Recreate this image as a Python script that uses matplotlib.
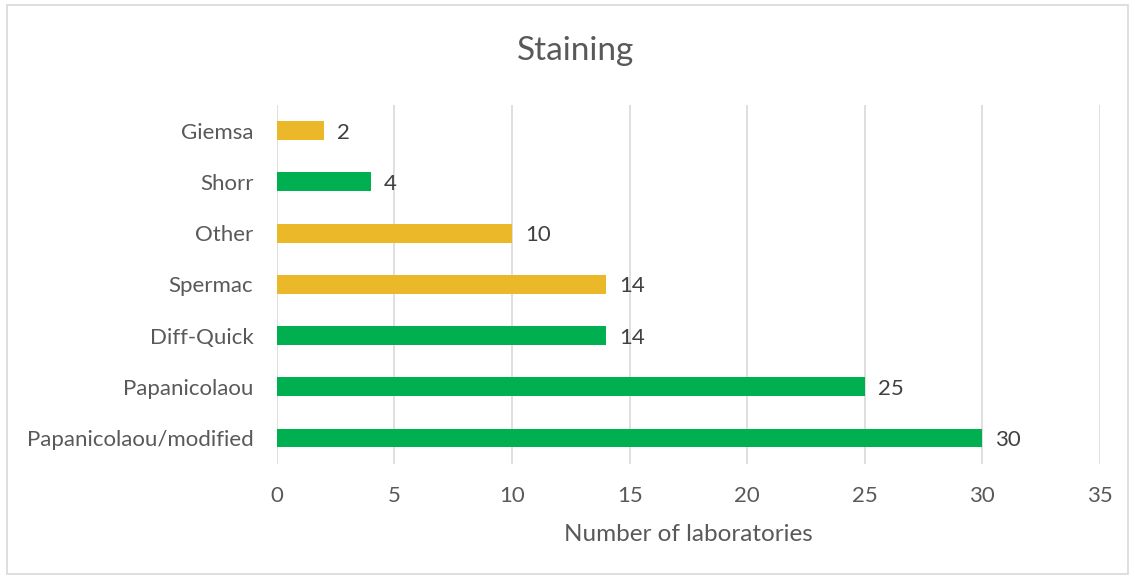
import matplotlib.pyplot as plt
from matplotlib.patches import Rectangle

categories = ["Papanicolaou/modified", "Papanicolaou", "Diff-Quick", "Spermac", "Other", "Shorr", "Giemsa"]
values = [30, 25, 14, 14, 10, 4, 2]
colors = ["#00B050", "#00B050", "#00B050", "#EBB82A", "#EBB82A", "#00B050", "#EBB82A"]

plt.rcParams['font.family'] = ['Lato', 'DejaVu Sans']

fig = plt.figure(figsize=(11.35, 5.79), dpi=100)
ax = fig.add_axes([0.244, 0.1993, 0.725, 0.6194])

y = list(range(len(categories)))
ax.barh(y, values, height=0.37, color=colors, zorder=3)
for yi, v in zip(y, values):
    ax.text(v + 0.55, yi, str(v), va='center_baseline', ha='left', fontsize=16, color='#404040')

ax.set_xlim(0, 35)
ax.set_ylim(-0.5, len(categories) - 0.5)
ax.set_xticks(range(0, 36, 5))
ax.set_yticks(y)
ax.set_yticklabels(categories)
ax.grid(axis='x', color='#D9D9D9', linewidth=1.2, zorder=0)
for s in ax.spines.values():
    s.set_visible(False)
ax.tick_params(axis='both', length=0, labelsize=16, labelcolor='#595959')
ax.tick_params(axis='x', pad=16)
ax.tick_params(axis='y', pad=17)
ax.set_xlabel("Number of laboratories", fontsize=17.5, color='#595959', labelpad=13)

fig.text(0.507, 0.912, "Staining", ha='center', va='center', fontsize=24, color='#595959')
fig.patches.append(Rectangle((0.006, 0.008), 0.988, 0.984, transform=fig.transFigure,
                             fill=False, edgecolor='#D9D9D9', linewidth=1.2))

fig.savefig("out.png", dpi=100)
